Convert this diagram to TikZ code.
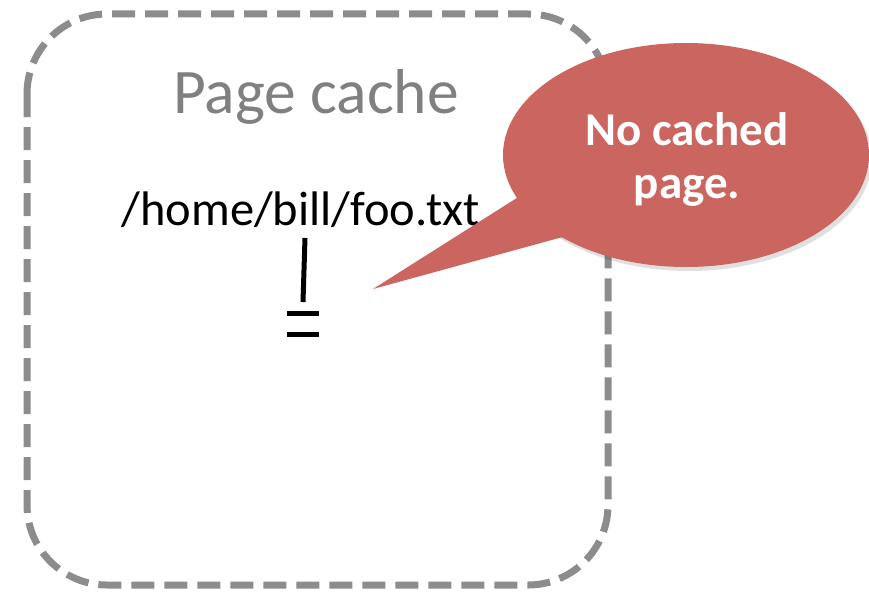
\documentclass[tikz,border=0pt]{standalone}
\usepackage{fontspec}
\setmainfont{Carlito}
\definecolor{bub}{HTML}{CB6560}
\definecolor{dashgray}{HTML}{8C8C8C}
\definecolor{titlegray}{HTML}{808080}
\tikzset{
  cachebox/.style={draw=dashgray, line width=7pt, dash pattern=on 23pt off 10pt, rounded corners=80pt},
  bubblefill/.style={fill=bub},
  bubbleshadow/.style={fill=black, opacity=0.12},
  markline/.style={line width=5pt, black},
}
\begin{document}
\begin{tikzpicture}[x=1pt,y=-1pt]
\useasboundingbox (0,0) rectangle (869,594);
\draw[cachebox] (27,14) rectangle (608,585);
\node[text=titlegray, font=\fontsize{63.5}{70}\selectfont, anchor=base, inner sep=0] (title) at (316,113) {Page cache};
\node[font=\fontsize{48.5}{56}\selectfont, anchor=base, inner sep=0] (path) at (301,225) {/home/bill/foo.txt};
\coordinate (c1) at (305,238);
\coordinate (c2) at (303,302);
\coordinate (u1a) at (287,313);
\coordinate (u1b) at (319,313);
\coordinate (u2a) at (287,334);
\coordinate (u2b) at (319,334);
\draw[markline] (c1) -- (c2);
\draw[markline] (u1a) -- (u1b);
\draw[markline] (u2a) -- (u2b);
% bubble shadow
\begin{scope}[shift={(3,4)}]
\fill[bubbleshadow] (686,155) ellipse [x radius=183, y radius=112];
\end{scope}
\fill[bubblefill] (686,155) ellipse [x radius=183, y radius=112];
\coordinate (tip) at (373,289);
\coordinate (ta) at (520,196);
\coordinate (tb) at (570,235);
\fill[bubblefill] (ta) -- (tip) -- (tb) -- cycle;
\node[text=white, font=\bfseries\fontsize{47}{53}\selectfont, anchor=base, inner sep=0] (msg1) at (687,145) {No cached};
\node[text=white, font=\bfseries\fontsize{47}{53}\selectfont, anchor=base, inner sep=0] (msg2) at (687,198) {page.};
\end{tikzpicture}
\end{document}
